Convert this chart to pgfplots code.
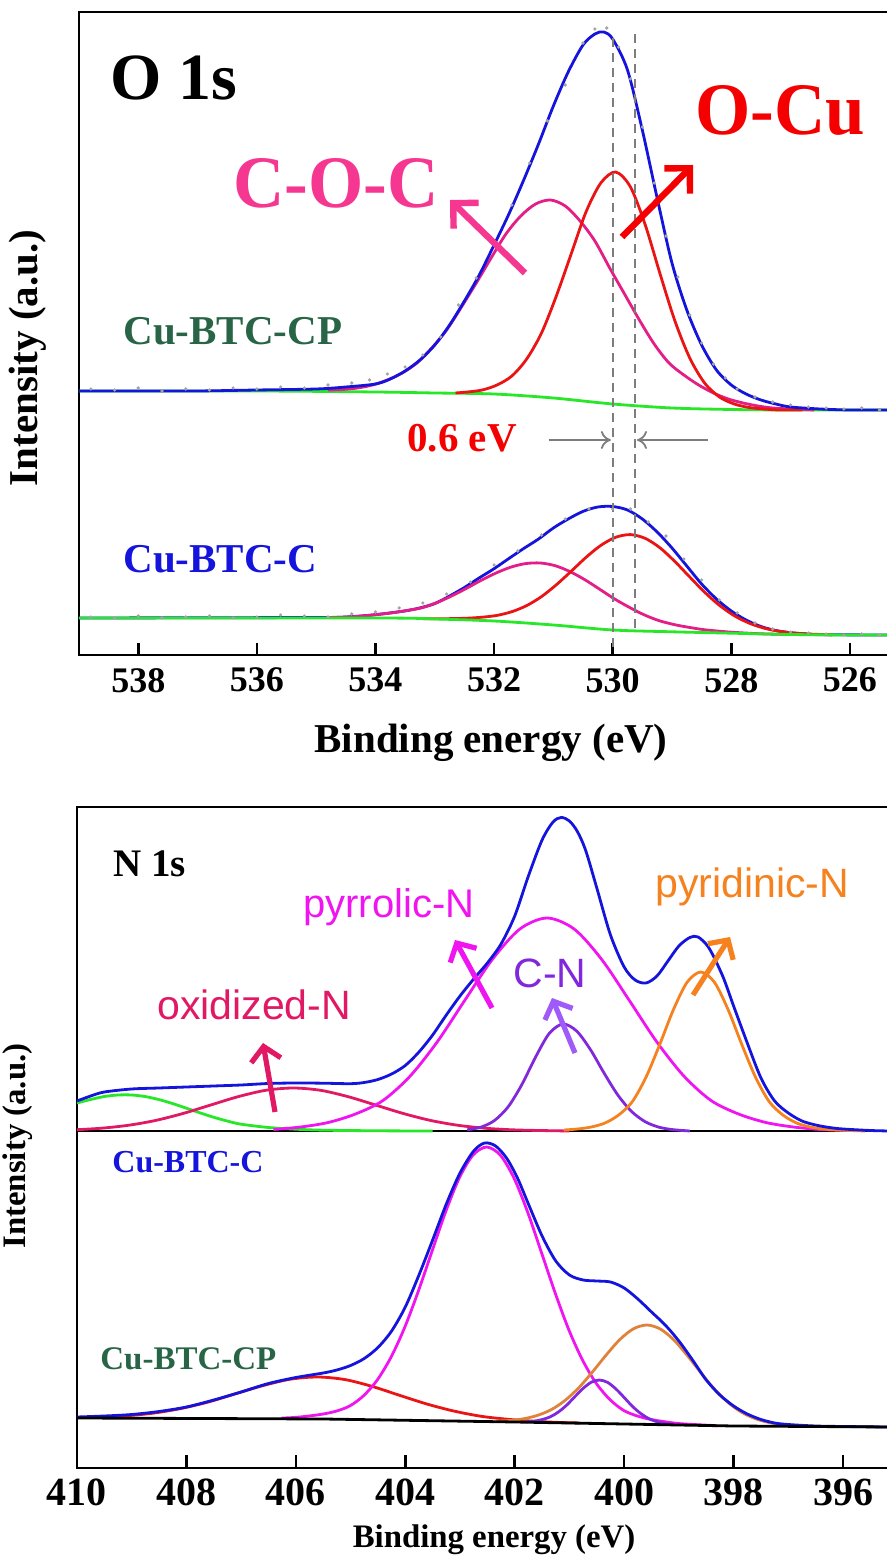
\documentclass[border=0pt]{standalone}
\usepackage{fontspec}
\setmainfont{Liberation Serif}
\newfontfamily\arialf{Liberation Sans}
\usepackage{pgfplots}
\pgfplotsset{compat=1.18}
\usetikzlibrary{arrows.meta}
\definecolor{cblue}{RGB}{20,20,220}
\definecolor{cred}{RGB}{235,20,20}
\definecolor{ocured}{RGB}{245,0,0}
\definecolor{cpink}{RGB}{228,30,135}
\definecolor{cocpink}{RGB}{245,55,145}
\definecolor{cgreen}{RGB}{40,230,40}
\definecolor{dkgreen}{RGB}{40,100,70}
\definecolor{cmag}{RGB}{240,20,240}
\definecolor{cpurple}{RGB}{130,40,220}
\definecolor{lpurple}{RGB}{160,90,250}
\definecolor{corange}{RGB}{245,130,30}
\definecolor{lorange}{RGB}{225,130,60}
\definecolor{crimson}{RGB}{225,25,100}
\definecolor{dgray}{RGB}{125,125,125}
\newcommand{\fs}[1]{\fontsize{#1}{#1}\selectfont}
\begin{document}
\begin{tikzpicture}
\useasboundingbox (0,0) rectangle (443.5pt,780pt);
% ---------------- O 1s ----------------
\begin{axis}[at={(39.5pt,452.5pt)}, anchor=south west, scale only axis,
  width=405pt, height=321.5pt, xmin=525.34, xmax=539, ymin=0, ymax=643,
  x dir=reverse, axis line style={line width=1.3pt},
  xtick={526,528,...,538}, ytick=\empty, tick pos=left, tick align=inside,
  major tick length=6pt, tick style={line width=1.3pt, black},
  /pgf/number format/assume math mode=true,
  xticklabel style={font=\bfseries\fs{18}, yshift=-3pt},
  every axis plot/.append style={line width=1.4pt}]
% raw data dots
\addplot[only marks, mark=*, mark size=0.9pt, dgray!70, draw opacity=0] coordinates {
(538.8,266)(538.4,265)(538.0,267)(537.6,264)(537.2,266)(536.8,265)(536.4,267)(536.0,266)(535.6,268)(535.2,267)(534.8,270)(534.4,272)(534.1,275)(533.8,281)(533.5,288)(533.2,300)(532.9,318)(532.6,350)(532.3,377)(532.0,413)(531.7,450)(531.4,492)(531.1,534)(530.8,570)(530.5,612)(530.3,626)(530.1,627)(529.9,608)(529.7,576)(529.5,528)(529.3,472)(529.1,419)(528.9,378)(528.7,340)(528.5,312)(528.3,291)(528.1,277)(527.9,266)(527.6,258)(527.3,253)(527.0,250)(526.7,248)(526.4,247)(526.1,246)(525.8,247)(525.5,245)};
\addplot[only marks, mark=*, mark size=0.9pt, dgray!70, draw opacity=0] coordinates {
(538.8,38)(538.4,37)(538.0,39)(537.6,37)(537.2,38)(536.8,39)(536.4,37)(536.0,38)(535.6,40)(535.2,39)(534.8,38)(534.4,41)(534.0,43)(533.6,47)(533.2,52)(532.8,61)(532.4,73)(532.0,90)(531.6,104)(531.2,120)(530.8,136)(530.4,146)(530.0,146)(529.7,146)(529.4,133)(529.1,119)(528.8,96)(528.5,75)(528.2,55)(527.9,42)(527.6,32)(527.3,26)(527.0,23)(526.7,22)(526.4,21)(526.1,20)(525.8,21)(525.5,20)};
% Cu-BTC-CP
\addplot[cgreen, smooth] coordinates {(539,264)(536,264)(534,263)(533,262)(532,261)(531,257)(530,251)(529,247)(528,245.5)(527,245)(525.3,245)};
\addplot[cpink, smooth] coordinates {(534.8,265)(534.55,265.5)(534.3,267)(534.05,270)(533.8,275)(533.55,282)(533.3,292)(533.05,307)(532.8,325)(532.55,348)(532.3,372)(532.05,397)(531.8,421)(531.55,439)(531.3,451)(531.05,455)(530.8,449)(530.55,434)(530.3,414)(530.05,387)(529.8,361)(529.55,335)(529.3,311)(529.05,292)(528.8,280)(528.55,270)(528.3,262)(528.05,256)(527.8,252)(527.55,249)(527.3,247)(527.0,246)(526.6,245)};
\addplot[cred, smooth] coordinates {(532.65,262)(532.45,263)(532.2,265)(531.95,270)(531.7,279)(531.45,296)(531.2,322)(530.95,359)(530.7,401)(530.45,443)(530.2,472)(529.95,483)(529.7,468)(529.45,430)(529.2,381)(528.95,334)(528.7,297)(528.45,272)(528.2,258)(527.95,251)(527.7,247.5)(527.45,246)(527.2,245)(526.8,245)};
\addplot[cblue, smooth] coordinates {(539,264)(538,264)(537,264)(536,265)(535,266)(534.5,268)(534.0,271)(533.75,276)(533.5,284)(533.25,295)(533.0,310)(532.75,330)(532.5,354)(532.25,380)(532.0,410)(531.75,441)(531.5,475)(531.25,511)(531.0,549)(530.75,583)(530.5,610)(530.3,621)(530.15,623)(530.0,616)(529.75,585)(529.5,525)(529.25,457)(529.0,392)(528.75,345)(528.5,310)(528.25,285)(528.0,270)(527.75,261)(527.5,255)(527.25,251)(527.0,248)(526.5,246)(526,245)(525.3,245)};
% Cu-BTC-C
\addplot[cblue, smooth] coordinates {(539,37)(535,37.5)(534.5,38)(534.0,40.3)(533.5,44.1)(533.25,47.1)(533.0,51.4)(532.75,59)(532.5,67.5)(532.25,77.1)(532.0,86.3)(531.75,96.5)(531.5,106.5)(531.25,116)(531.0,127)(530.75,136)(530.5,143.6)(530.25,148)(530.0,148.5)(529.75,145)(529.5,136)(529.25,123)(529.0,107)(528.75,89)(528.5,71)(528.25,56)(528.0,44)(527.75,35)(527.5,28.5)(527.25,24.5)(527.0,22.3)(526.75,21.1)(526.5,20.3)(525.3,20)};
\addplot[cpink, smooth] coordinates {(534.8,37.5)(534.47,38)(534.22,39)(533.97,40.5)(533.72,42.2)(533.47,44.5)(533.22,47.2)(532.97,52.3)(532.72,58.9)(532.47,66.5)(532.22,74.6)(531.97,81.9)(531.72,87.8)(531.47,91.4)(531.22,92)(530.97,89.3)(530.72,83.4)(530.47,75.3)(530.22,65.8)(529.97,56.1)(529.72,47.7)(529.47,40.2)(529.22,34.4)(528.97,30.5)(528.72,27.7)(528.47,25.4)(528.22,23.9)(527.97,22.7)(527.5,21.2)(527.0,20.5)};
\addplot[cred, smooth] coordinates {(533.2,36.2)(532.95,36.2)(532.7,36.4)(532.45,36.8)(532.2,37.8)(531.95,39.6)(531.7,43.3)(531.45,49.4)(531.2,58.4)(530.95,70.2)(530.7,83.7)(530.45,97.6)(530.2,109.6)(529.95,117.7)(529.7,120.4)(529.45,116.6)(529.2,107.1)(528.95,93.4)(528.7,78)(528.45,62.8)(528.2,49.7)(527.95,39.3)(527.7,31.9)(527.45,26.9)(527.2,23.8)(526.95,22)(526.7,21)(526.3,20.1)};
\addplot[cgreen, smooth] coordinates {(539,37)(534,37)(533,36)(532,34)(531,30)(530,25)(529,23.2)(528,21.8)(527,20.5)(526,20)(525.3,20)};
% dashed guides
\addplot[dgray, dash pattern=on 4.5pt off 3pt, line width=1pt] coordinates {(530.0,8)(530.0,623)};
\addplot[dgray, dash pattern=on 4.5pt off 3pt, line width=1pt] coordinates {(529.62,27)(529.62,623)};
\draw[dgray, line width=0.9pt, -{To[length=5pt,width=9pt]}] (axis cs:531.08,215) -- (axis cs:530.03,215);
\draw[dgray, line width=0.9pt, -{To[length=5pt,width=9pt]}] (axis cs:528.40,215) -- (axis cs:529.59,215);
\end{axis}
% ---------------- N 1s ----------------
\begin{axis}[at={(38.5pt,46pt)}, anchor=south west, scale only axis,
  width=406pt, height=330.5pt, xmin=395.16, xmax=410, ymin=0, ymax=661,
  x dir=reverse, axis line style={line width=1.3pt},
  xtick={396,398,...,410}, ytick=\empty, tick pos=left, tick align=inside,
  major tick length=6.5pt, tick style={line width=1.3pt, black},
  /pgf/number format/assume math mode=true,
  xticklabel style={font=\bfseries\fs{20}, yshift=-2pt},
  every axis plot/.append style={line width=1.4pt}]
% upper spectrum
\addplot[black, line width=1.3pt] coordinates {(410,337)(395.16,337)};
\addplot[cgreen, smooth] coordinates {(410.0,365)(409.75,368.5)(409.5,371.5)(409.25,373)(409.0,373)(408.75,371.4)(408.5,368.4)(408.25,364.4)(408.0,359.8)(407.75,355.1)(407.5,350.7)(407.25,346.9)(407.0,343.8)(406.5,340.5)(406.0,338.8)(405.5,337.8)(404.5,337.2)(403.5,337)};
\addplot[crimson, smooth] coordinates {(410.0,338.3)(409.55,339.8)(409.05,342.8)(408.55,347.7)(408.05,354.7)(407.55,363.1)(407.05,371.4)(406.55,377.7)(406.05,380)(405.55,377.7)(405.05,371.4)(404.55,363.1)(404.05,354.7)(403.55,347.7)(403.05,342.8)(402.55,339.8)(402.05,338.2)(401.55,337.5)(401.0,337)};
\addplot[cmag, smooth] coordinates {(406.41,338.5)(405.91,341)(405.41,345.5)(404.91,354)(404.41,367.4)(403.91,392)(403.41,426.6)(402.91,467.9)(402.41,508.5)(401.91,538.8)(401.41,550)(400.91,538.8)(400.41,508.5)(399.91,467.9)(399.41,426.6)(398.91,392)(398.41,367.4)(397.91,354)(397.41,345.5)(396.91,341)(396.41,338.5)(395.9,337.5)};
\addplot[cpurple, smooth] coordinates {(402.87,338.2)(402.62,340.8)(402.37,347.5)(402.12,361.2)(401.87,383.4)(401.62,410.8)(401.37,434.5)(401.12,444)(400.87,437)(400.62,418.7)(400.37,395.2)(400.12,373.3)(399.87,356.8)(399.62,346.4)(399.37,340.9)(399.12,338.4)(398.8,337)};
\addplot[corange, smooth] coordinates {(401.1,338)(400.85,339)(400.6,341)(400.35,345)(400.1,353)(399.85,366.4)(399.6,390.9)(399.35,423.5)(399.1,458.3)(398.85,485.7)(398.6,496)(398.35,485.7)(398.1,458.3)(397.85,423.5)(397.6,390.9)(397.35,366.4)(397.1,353)(396.85,345)(396.6,341)(396.35,339)(396.1,338)(395.6,337)};
\addplot[cblue, smooth] coordinates {(410.0,367)(409.75,372)(409.5,376)(409.0,379)(408.5,380)(408.0,381)(407.5,382)(407.0,383)(406.5,384.5)(406.0,385)(405.5,384.8)(405.0,384.3)(404.75,385.5)(404.5,388.5)(404.25,394)(404.0,402.5)(403.75,416)(403.5,433)(403.25,453)(403.0,472)(402.75,489)(402.5,505)(402.25,524)(402.0,552)(401.75,592)(401.5,628)(401.3,646)(401.15,650.5)(401.0,647)(400.85,636)(400.7,617)(400.5,580)(400.25,533)(400.0,501)(399.8,488)(399.6,485)(399.4,492)(399.2,507)(399.0,522)(398.8,530.5)(398.65,531)(398.45,520)(398.2,492)(398.0,462)(397.75,425)(397.5,390)(397.25,367)(397.0,355)(396.75,347)(396.5,343)(396.25,340.5)(396.0,339)(395.5,337.5)(395.16,337)};
% lower spectrum
\addplot[cred, smooth] coordinates {(410.0,50.4)(409.6,50.9)(409.1,52.2)(408.6,54.9)(408.1,59.5)(407.6,66)(407.1,74.3)(406.6,82.4)(406.1,88.8)(405.6,91)(405.1,88.4)(404.6,81.5)(404.1,72.6)(403.6,63.9)(403.1,56.8)(402.6,51.6)(402.1,48.6)(401.6,46.6)(401.2,45.6)(400.8,45)};
\addplot[cmag, smooth] coordinates {(406.26,49.9)(406.01,50.6)(405.76,52)(405.51,53.9)(405.26,56.9)(405.01,62.2)(404.76,72.4)(404.51,88.2)(404.26,110.9)(404.01,140.7)(403.76,177.1)(403.51,217)(403.26,256.6)(403.01,290.4)(402.76,313.1)(402.51,321)(402.26,312.6)(402.01,289.5)(401.76,255.3)(401.51,215.2)(401.26,174.9)(401.01,138)(400.76,107.8)(400.51,84.6)(400.26,68.4)(400.01,57.6)(399.76,52)(399.51,48.5)(399.26,46.3)(399.01,44.5)(398.76,43.6)(398.3,42.3)};
\addplot[cpurple, smooth] coordinates {(401.8,46.3)(401.65,46.8)(401.5,48.4)(401.35,51.2)(401.2,56.1)(401.05,62.9)(400.9,71.4)(400.75,79.6)(400.6,85.8)(400.45,88)(400.3,85.5)(400.15,79)(400.0,70.5)(399.85,61.7)(399.7,54.6)(399.55,49.4)(399.4,46.3)(399.25,44.4)(399.1,43.6)};
\addplot[lorange, smooth] coordinates {(402.33,46.9)(402.08,47.6)(401.83,49.3)(401.58,52.7)(401.33,58.4)(401.08,67.6)(400.83,80.2)(400.58,96)(400.33,112.9)(400.08,128.4)(399.83,139.2)(399.58,143)(399.33,138.7)(399.08,127.4)(398.83,111.4)(398.58,94)(398.33,77.7)(398.08,64.5)(397.83,55)(397.58,48.9)(397.33,45.2)(397.08,43.2)(396.83,42.2)(396.4,41.4)};
\addplot[cblue, smooth] coordinates {(410.0,51)(409.5,52)(409.0,53.5)(408.5,56.5)(408.0,61)(407.5,68)(407.0,76)(406.5,84.5)(406.0,90.5)(405.5,95)(405.25,98)(405.0,102.5)(404.75,109.5)(404.5,120.5)(404.25,137)(404.0,161)(403.75,193)(403.5,228)(403.25,264)(403.0,295)(402.75,317)(402.55,325)(402.35,322)(402.15,310)(401.95,290)(401.75,264)(401.5,232)(401.25,207)(401.0,193)(400.75,188)(400.5,187)(400.25,186)(400.0,180)(399.75,169)(399.5,156)(399.25,143)(399.0,127)(398.75,108)(398.5,88)(398.25,73)(398.0,62)(397.75,54)(397.5,48.5)(397.25,45)(397.0,43.5)(396.5,42)(396.0,41.5)(395.16,41)};
\addplot[black, line width=1.4pt] coordinates {(410,50)(405.5,49)(402,46)(398,42)(395.16,41)};
\end{axis}
% ---------------- texts and arrows (pixel frame) ----------------
\begin{scope}[x=0.5pt,y=-0.5pt,shift={(0pt,780pt)}]
\node[anchor=base west, inner sep=0, font=\bfseries\fs{33}] at (110,100) {O 1s};
\node[anchor=base west, inner sep=0, font=\bfseries\fs{37}, text=cocpink] at (233,208) {\scalebox{0.96}[1]{C-O-C}};
\node[anchor=base west, inner sep=0, font=\bfseries\fs{37}, text=ocured] at (695,135) {\scalebox{0.96}[1]{O-Cu}};
\node[anchor=base west, inner sep=0, font=\bfseries\fs{20.5}, text=dkgreen] at (123,345) {Cu-BTC-CP};
\node[anchor=base west, inner sep=0, font=\bfseries\fs{20.5}, text=cblue] at (123,573) {Cu-BTC-C};
\node[anchor=base west, inner sep=0, font=\bfseries\fs{20.5}, text=ocured] at (407,452) {0.6 eV};
\node[rotate=90, inner sep=0, font=\bfseries\fs{20.5}] at (28,358) {Intensity (a.u.)};
\node[inner sep=0, font=\bfseries\fs{20.5}] at (491,743) {Binding energy (eV)};
\draw[cocpink, line width=3.2pt, -{Straight Barb[length=9pt,width=18pt]}] (525,273) -- (450,200);
\draw[ocured, line width=3.2pt, -{Straight Barb[length=9pt,width=18pt]}] (622,237) -- (693,165);
% N 1s
\node[anchor=base west, inner sep=0, font=\bfseries\fs{19.5}] at (113,877) {N 1s};
\node[anchor=base west, inner sep=0, font=\arialf\fs{20}, text=cmag] at (303,918) {pyrrolic-N};
\node[anchor=base west, inner sep=0, font=\arialf\fs{20.5}, text=crimson] at (157,1020) {oxidized-N};
\node[anchor=base west, inner sep=0, font=\arialf\fs{20.5}, text=cpurple] at (513,988) {C-N};
\node[anchor=base west, inner sep=0, font=\arialf\fs{20.5}, text=corange] at (655,898) {pyridinic-N};
\draw[crimson, line width=2.6pt, -{Straight Barb[length=7pt,width=15pt]}] (275,1112) -- (263,1043);
\draw[cmag, line width=2.6pt, -{Straight Barb[length=7pt,width=15pt]}] (492,1008) -- (455,940);
\draw[lpurple, line width=2.6pt, -{Straight Barb[length=7pt,width=15pt]}] (575,1053) -- (552,998);
\draw[corange, line width=2.6pt, -{Straight Barb[length=7pt,width=15pt]}] (693,995) -- (730,937);
\node[anchor=base west, inner sep=0, font=\bfseries\fs{16}, text=cblue] at (112,1173) {Cu-BTC-C};
\node[anchor=base west, inner sep=0, font=\bfseries\fs{16.5}, text=dkgreen] at (100,1370) {Cu-BTC-CP};
\node[rotate=90, inner sep=0, font=\bfseries\fs{16.4}] at (18,1146) {Intensity (a.u.)};
\node[inner sep=0, font=\bfseries\fs{16.4}] at (494,1540) {Binding energy (eV)};
\end{scope}
\end{tikzpicture}
\end{document}
